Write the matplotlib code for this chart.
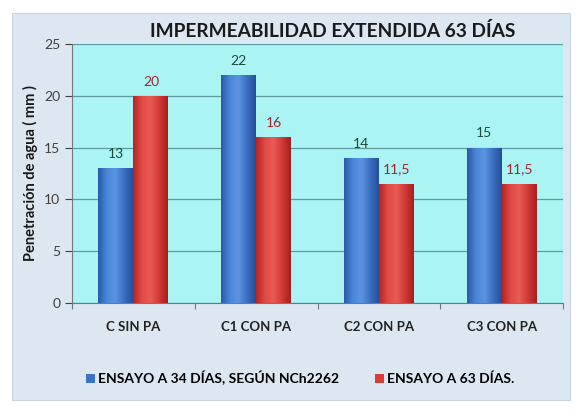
import matplotlib
matplotlib.use("Agg")
import matplotlib.pyplot as plt
import numpy as np
from matplotlib.colors import LinearSegmentedColormap
from matplotlib.patches import Rectangle

categories = ["C SIN PA", "C1 CON PA", "C2 CON PA", "C3 CON PA"]
ensayo_34 = [13, 22, 14, 15]
ensayo_63 = [20, 16, 11.5, 11.5]
labels_34 = ["13", "22", "14", "15"]
labels_63 = ["20", "16", "11,5", "11,5"]
series_names = ["ENSAYO A 34 DÍAS, SEGÚN NCh2262", "ENSAYO A 63 DÍAS."]
title = "IMPERMEABILIDAD EXTENDIDA 63 DÍAS"
ylabel = "Penetración de agua ( mm )"
yticks = [0, 5, 10, 15, 20, 25]

plt.rcParams["font.family"] = ["Lato", "DejaVu Sans"]

fig = plt.figure(figsize=(5.8, 4.13), dpi=100)
fig.patch.set_facecolor("white")
fig.add_artist(Rectangle((12 / 580, 13 / 413), 558 / 580, 387 / 413,
                         transform=fig.transFigure, facecolor="#dde7f1",
                         edgecolor="#c9d3de", linewidth=0.8, zorder=0))

ax = fig.add_axes([72 / 580, 1 - 303 / 413, 491 / 580, 259 / 413])
ax.set_facecolor("#aaf4f4")

x = np.arange(len(categories))
w = 0.285

blue_cmap = LinearSegmentedColormap.from_list("b", ["#2a5aa8", "#4a86d8", "#5b95e0", "#3b6fc0", "#24509a"])
red_cmap = LinearSegmentedColormap.from_list("r", ["#b82424", "#e04a46", "#ea5a55", "#d03a36", "#a81e1e"])

bars_b = ax.bar(x - w / 2, ensayo_34, w, color="#3d73c6", zorder=3)
bars_r = ax.bar(x + w / 2, ensayo_63, w, color="#d93c38", zorder=3)

grad = np.linspace(0, 1, 64).reshape(1, -1)
for bars, cmap in [(bars_b, blue_cmap), (bars_r, red_cmap)]:
    for b in bars:
        x0, y0 = b.get_x(), b.get_y()
        im = ax.imshow(grad, cmap=cmap, aspect="auto", zorder=3.5,
                       extent=[x0, x0 + b.get_width(), y0, y0 + b.get_height()])
        im.set_clip_path(b)

for b, t in zip(bars_b, labels_34):
    ax.text(b.get_x() + b.get_width() / 2, b.get_height() + 0.8, t,
            ha="center", va="bottom", fontsize=10, color="#1e4a3c", zorder=5)
for b, t in zip(bars_r, labels_63):
    ax.text(b.get_x() + b.get_width() / 2, b.get_height() + 0.8, t,
            ha="center", va="bottom", fontsize=10, color="#a0262a", zorder=5)

ax.set_xlim(-0.5, len(categories) - 0.5)
ax.set_ylim(0, 25)
ax.set_yticks(yticks)
ax.yaxis.grid(True, color="#5f9aa0", linewidth=0.9, zorder=1)
ax.set_axisbelow(True)
ax.set_xticks(x)
ax.set_xticklabels(categories, fontsize=9.5, fontweight="bold", color="#222222")
ax.tick_params(axis="y", labelsize=10, colors="#404040", length=5, width=0.8)
ax.tick_params(axis="x", length=0, pad=13)
ax.set_xticks(np.arange(len(categories) + 1) - 0.5, minor=True)
ax.tick_params(axis="x", which="minor", length=4, width=0.8, color="#777777")
for s in ["top", "right"]:
    ax.spines[s].set_visible(False)
ax.spines["left"].set_color("#777777")
ax.spines["bottom"].set_color("#777777")
ax.set_ylabel(ylabel, fontsize=10.5, fontweight="bold", color="#1a1a1a", labelpad=4)

fig.text(333 / 580, 1 - 31 / 413, title, ha="center", va="center",
         fontsize=13.8, fontweight="bold", color="#1a1a1a")

leg = fig.legend([bars_b, bars_r], series_names, loc="center",
                 bbox_to_anchor=(300 / 580, 1 - 378 / 413), ncol=2, frameon=False,
                 handlelength=0.65, handleheight=0.65, handletextpad=0.2,
                 columnspacing=2.6, prop={"weight": "bold", "size": 10})

fig.savefig("out.png", dpi=100, facecolor=fig.get_facecolor())
